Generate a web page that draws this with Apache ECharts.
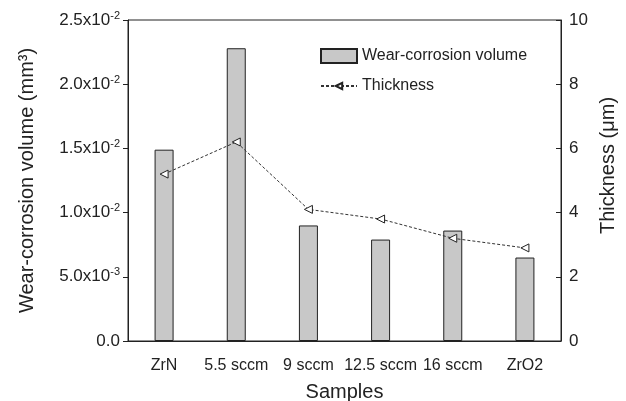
<!DOCTYPE html>
<html>
<head>
<meta charset="utf-8">
<script src="https://cdn.jsdelivr.net/npm/echarts@6/dist/echarts.min.js"></script>
<style>
  html, body { margin: 0; padding: 0; background: #fff; }
  #chart { width: 626px; height: 401px; }
</style>
</head>
<body>
<div id="chart"></div>
<script>
// Samples along the x axis
const categories = ['ZrN', '5.5 sccm', '9 sccm', '12.5 sccm', '16 sccm', 'ZrO2'];
// Wear-corrosion volume, mm^3 (bars, left axis)
const wearVolume = [0.0149, 0.0228, 0.0090, 0.0079, 0.0086, 0.0065];
// Coating thickness, µm (dashed line, right axis)
const thickness = [5.2, 6.2, 4.1, 3.8, 3.2, 2.9];
// Left axis tick labels: [mantissa, exponent]
const leftTickLabels = [['0.0', ''], ['5.0x10', '-3'], ['1.0x10', '-2'], ['1.5x10', '-2'], ['2.0x10', '-2'], ['2.5x10', '-2']];
const rightTickLabels = ['0', '2', '4', '6', '8', '10'];

const FONT = '"Liberation Sans", Arial, Helvetica, sans-serif';
const INK = '#222';

const chart = echarts.init(document.getElementById('chart'), null, { renderer: 'canvas' });

const legendText = { fontFamily: FONT, fontSize: 16, color: INK };

chart.setOption({
  animation: false,
  backgroundColor: '#fff',
  textStyle: { fontFamily: FONT, color: INK },
  grid: {
    left: 128, right: 65, top: 20, bottom: 60,
    containLabel: false,
    outerBoundsMode: 'none',
    show: true, borderColor: INK, borderWidth: 1, backgroundColor: 'transparent'
  },
  legend: [
    {
      left: 320, top: 48, padding: 0,
      itemWidth: 36, itemHeight: 14,
      textStyle: legendText,
      data: [{ name: 'Wear-corrosion volume', icon: 'rect' }]
    },
    {
      left: 320, top: 78, padding: 0,
      itemWidth: 36, itemHeight: 8,
      textStyle: legendText,
      data: [{ name: 'Thickness' }]
    }
  ],
  xAxis: {
    type: 'category',
    data: categories,
    name: 'Samples',
    nameLocation: 'middle',
    nameGap: 41,
    nameTextStyle: { fontFamily: FONT, fontSize: 20, color: INK },
    axisLine: { lineStyle: { color: INK, width: 1 } },
    axisTick: { alignWithLabel: true, length: 5, lineStyle: { color: INK } },
    axisLabel: { fontFamily: FONT, fontSize: 16, color: INK, margin: 17, interval: 0 },
    splitLine: { show: false }
  },
  yAxis: [
    {
      type: 'value',
      min: 0, max: 0.025, interval: 0.005,
      name: 'Wear-corrosion volume (mm³)',
      nameLocation: 'middle',
      nameGap: 91,
      nameRotate: 90,
      nameTextStyle: { fontFamily: FONT, fontSize: 20, color: INK },
      axisLine: { show: true, lineStyle: { color: INK, width: 1 } },
      axisTick: { show: true, length: 5, lineStyle: { color: INK } },
      splitLine: { show: false },
      axisLabel: {
        margin: 8,
        formatter: function (v) {
          const t = leftTickLabels[Math.round(v / 0.005)];
          return t[1] ? t[0] + '{sup|' + t[1] + '}' : t[0];
        },
        fontFamily: FONT, fontSize: 17, color: INK, lineHeight: 20,
        rich: {
          sup: { fontFamily: FONT, fontSize: 11, color: INK, lineHeight: 11, verticalAlign: 'top' }
        }
      }
    },
    {
      type: 'value',
      min: 0, max: 10, interval: 2,
      position: 'right',
      name: 'Thickness (μm)',
      nameLocation: 'middle',
      nameGap: 36,
      nameRotate: 90,
      nameTextStyle: { fontFamily: FONT, fontSize: 20, color: INK, padding: [0, 0, 0, 30] },
      axisLine: { show: true, lineStyle: { color: INK, width: 1 } },
      axisTick: { show: true, inside: true, length: 5, lineStyle: { color: INK } },
      splitLine: { show: false },
      axisLabel: {
        margin: 8,
        fontFamily: FONT, fontSize: 17, color: INK,
        formatter: function (v) { return rightTickLabels[Math.round(v / 2)]; }
      }
    }
  ],
  series: [
    {
      name: 'Wear-corrosion volume',
      type: 'bar',
      yAxisIndex: 0,
      data: wearVolume,
      barWidth: 19,
      itemStyle: { color: '#c8c8c8', borderColor: INK, borderWidth: 1 }
    },
    {
      name: 'Thickness',
      type: 'line',
      yAxisIndex: 1,
      data: thickness,
      symbol: 'triangle',
      symbolRotate: 90,
      symbolSize: [8, 8],
      showAllSymbol: true,
      lineStyle: { color: '#333', width: 1, type: [3, 2] },
      itemStyle: { color: '#fff', borderColor: INK, borderWidth: 1 },
      z: 3
    }
  ]
});
</script>
</body>
</html>
